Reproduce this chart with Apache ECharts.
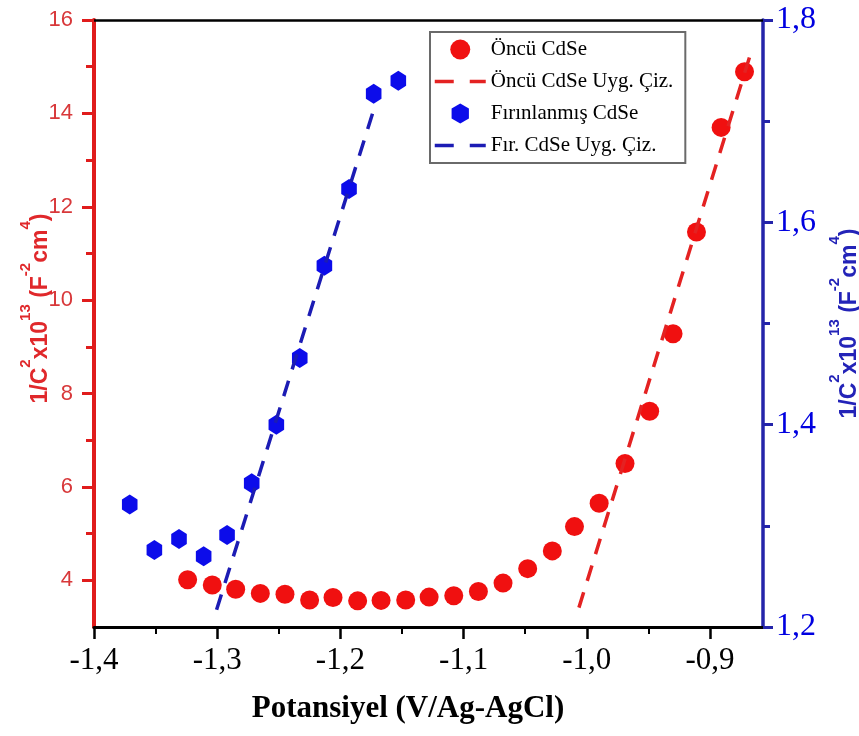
<!DOCTYPE html>
<html>
<head>
<meta charset="utf-8">
<script src="https://cdn.jsdelivr.net/npm/echarts@6/dist/echarts.min.js"></script>
<style>
  html, body { margin: 0; padding: 0; background: #fff; }
  #chart { width: 859px; height: 736px; }
</style>
</head>
<body>
<div id="chart"></div>
<script>
// Öncü CdSe (left axis)
const oncuX = [-1.324, -1.304, -1.285, -1.265, -1.245, -1.225, -1.206, -1.186, -1.167, -1.147, -1.128, -1.108,
  -1.088, -1.068, -1.048, -1.028, -1.010, -0.990, -0.969, -0.949, -0.930, -0.911, -0.891, -0.872];
const oncuY = [4.01, 3.90, 3.81, 3.72, 3.70, 3.58, 3.63, 3.56, 3.57, 3.58, 3.64, 3.67,
  3.76, 3.94, 4.25, 4.63, 5.15, 5.65, 6.50, 7.62, 9.28, 11.46, 13.70, 14.89];
// Öncü fit line
const oncuFitX = [-1.0064, -0.868];
const oncuFitY = [3.415, 15.2];
// Fırınlanmış CdSe (right axis)
const firinX = [-1.371, -1.351, -1.331, -1.311, -1.292, -1.272, -1.252, -1.233, -1.213, -1.193, -1.173, -1.153];
const firinY = [1.321, 1.276, 1.287, 1.270, 1.291, 1.342, 1.400, 1.466, 1.557, 1.633, 1.727, 1.740];
// Fırınlanmış fit line
const firinFitX = [-1.3005, -1.172];
const firinFitY = [1.217, 1.715];

// ticks
const xTicks = [-1.4, -1.3, -1.2, -1.1, -1.0, -0.9];
const xMinorTicks = [-1.35, -1.25, -1.15, -1.05, -0.95];
const leftTicks = [4, 6, 8, 10, 12, 14, 16];
const leftMinorTicks = [5, 7, 9, 11, 13, 15];
const rightTicks = [1.2, 1.4, 1.6, 1.8];
const rightMinorTicks = [1.3, 1.5, 1.7];

const zip = (xs, ys) => xs.map((x, i) => [x, ys[i]]);
const comma = v => v.toFixed(1).replace('.', ',');

const RED = '#f01010';
const BLUE = '#0c0cea';
const X_MIN = -1.4, X_MAX = -0.857;

const hexagon = 'path://M0,-10L8.66,-5L8.66,5L0,10L-8.66,5L-8.66,-5Z';
// hide the symbol that the legend puts on a line icon
const noSymbol = { color: 'rgba(0,0,0,0)', opacity: 0, borderWidth: 0 };

function minorAxis(pos, min, max, ticks, extra) {
  return Object.assign({
    type: 'value', position: pos, min: min, max: max,
    axisLine: { show: false },
    axisTick: { show: true, length: 7, customValues: ticks, lineStyle: { width: 2, color: '#000' } },
    axisLabel: { show: false },
    splitLine: { show: false }
  }, extra || {});
}

const titleRich = color => ({
  b: { fontFamily: 'Liberation Sans', fontWeight: 'bold', fontSize: 23, color: color, lineHeight: 34, verticalAlign: 'bottom' },
  s: { fontFamily: 'Liberation Sans', fontWeight: 'bold', fontSize: 15, color: color, lineHeight: 16, verticalAlign: 'top' }
});
const titleText = '{b|1/C}{s|2}{b|x10}{s|13}{b| (F}{s|-2}{b|cm}{s|4}{b|)}';

const chart = echarts.init(document.getElementById('chart'));
chart.setOption({
  animation: false,
  backgroundColor: '#fff',
  grid: { left: 94, right: 96, top: 20, bottom: 109, outerBoundsMode: 'none', containLabel: false },
  legend: {
    orient: 'vertical',
    left: 430, top: 32,
    backgroundColor: '#fff',
    borderColor: '#6a6a6a',
    borderWidth: 2,
    borderRadius: 0,
    padding: [7, 12, 7, 3],
    itemGap: 11,
    itemWidth: 51,
    itemHeight: 20,
    symbolKeepAspect: true,
    lineStyle: { type: [19, 16], width: 3.5 },
    textStyle: { fontFamily: 'Liberation Serif', fontSize: 21, color: '#000' },
    data: [
      { name: 'Öncü CdSe', icon: 'circle' },
      { name: 'Öncü CdSe Uyg. Çiz.', itemStyle: noSymbol },
      { name: 'Fırınlanmış CdSe', icon: hexagon },
      { name: 'Fır. CdSe Uyg. Çiz.', itemStyle: noSymbol }
    ]
  },
  xAxis: [
    {
      type: 'value', position: 'bottom', min: X_MIN, max: X_MAX,
      name: 'Potansiyel (V/Ag-AgCl)',
      nameLocation: 'middle', nameGap: 66, nameMoveOverlap: false,
      nameTextStyle: { fontFamily: 'Liberation Serif', fontWeight: 'bold', fontSize: 31, color: '#000', padding: [0, 41, 0, 0] },
      axisLine: { lineStyle: { color: '#000', width: 3 } },
      axisTick: { length: 12, customValues: xTicks, lineStyle: { width: 2.5, color: '#000' } },
      axisLabel: { customValues: xTicks, formatter: comma, fontFamily: 'Liberation Serif', fontSize: 31, color: '#000', margin: 18 },
      splitLine: { show: false }
    },
    {
      type: 'value', position: 'top', min: X_MIN, max: X_MAX,
      axisLine: { lineStyle: { color: '#000', width: 2.5 } },
      axisTick: { show: false }, axisLabel: { show: false }, splitLine: { show: false }
    },
    minorAxis('bottom', X_MIN, X_MAX, xMinorTicks)
  ],
  yAxis: [
    {
      type: 'value', position: 'left', min: 3, max: 16,
      name: titleText,
      nameLocation: 'middle', nameGap: 42, nameRotate: 90, nameMoveOverlap: false,
      nameTextStyle: { padding: [0, 0, 0, 30], rich: titleRich('#e0282b') },
      axisLine: { lineStyle: { color: '#e01c1c', width: 4 } },
      axisTick: { length: 12, customValues: leftTicks, lineStyle: { width: 3, color: '#e01c1c' } },
      axisLabel: { customValues: leftTicks, fontFamily: 'Liberation Sans', fontSize: 22, color: '#d8383a', margin: 21 },
      splitLine: { show: false }
    },
    {
      type: 'value', position: 'right', min: 1.2, max: 1.8,
      name: titleText,
      nameLocation: 'middle', nameGap: 64, nameRotate: 90, nameMoveOverlap: false,
      nameTextStyle: { rich: titleRich('#2323b8') },
      axisLine: { lineStyle: { color: '#2424aa', width: 3.5 } },
      axisTick: { length: 10, customValues: rightTicks, lineStyle: { width: 3, color: '#2424aa' } },
      axisLabel: { customValues: rightTicks, formatter: comma, fontFamily: 'Liberation Serif', fontSize: 32, color: '#0000e0', margin: 13 },
      splitLine: { show: false }
    },
    minorAxis('left', 3, 16, leftMinorTicks, {
      axisTick: { show: true, length: 8, customValues: leftMinorTicks, lineStyle: { width: 3, color: '#e01c1c' } }
    }),
    minorAxis('right', 1.2, 1.8, rightMinorTicks, {
      axisTick: { show: true, length: 7, customValues: rightMinorTicks, lineStyle: { width: 3, color: '#2424aa' } }
    })
  ],
  series: [
    {
      name: 'Öncü CdSe', type: 'scatter', xAxisIndex: 0, yAxisIndex: 0,
      symbol: 'circle', symbolSize: 19,
      itemStyle: { color: RED, opacity: 1 },
      data: zip(oncuX, oncuY)
    },
    {
      name: 'Öncü CdSe Uyg. Çiz.', type: 'line', xAxisIndex: 0, yAxisIndex: 0,
      symbol: 'none',
      lineStyle: { color: '#e42222', width: 3.5, type: [16, 12] },
      itemStyle: { color: '#e42222' },
      data: zip(oncuFitX, oncuFitY)
    },
    {
      name: 'Fırınlanmış CdSe', type: 'scatter', xAxisIndex: 0, yAxisIndex: 1,
      symbol: hexagon, symbolSize: [18, 20], symbolKeepAspect: true,
      itemStyle: { color: BLUE, opacity: 1 },
      data: zip(firinX, firinY)
    },
    {
      name: 'Fır. CdSe Uyg. Çiz.', type: 'line', xAxisIndex: 0, yAxisIndex: 1,
      symbol: 'none',
      lineStyle: { color: '#1c1cb4', width: 3.5, type: [16, 12] },
      itemStyle: { color: '#1c1cb4' },
      data: zip(firinFitX, firinFitY)
    }
  ]
});
</script>
</body>
</html>
